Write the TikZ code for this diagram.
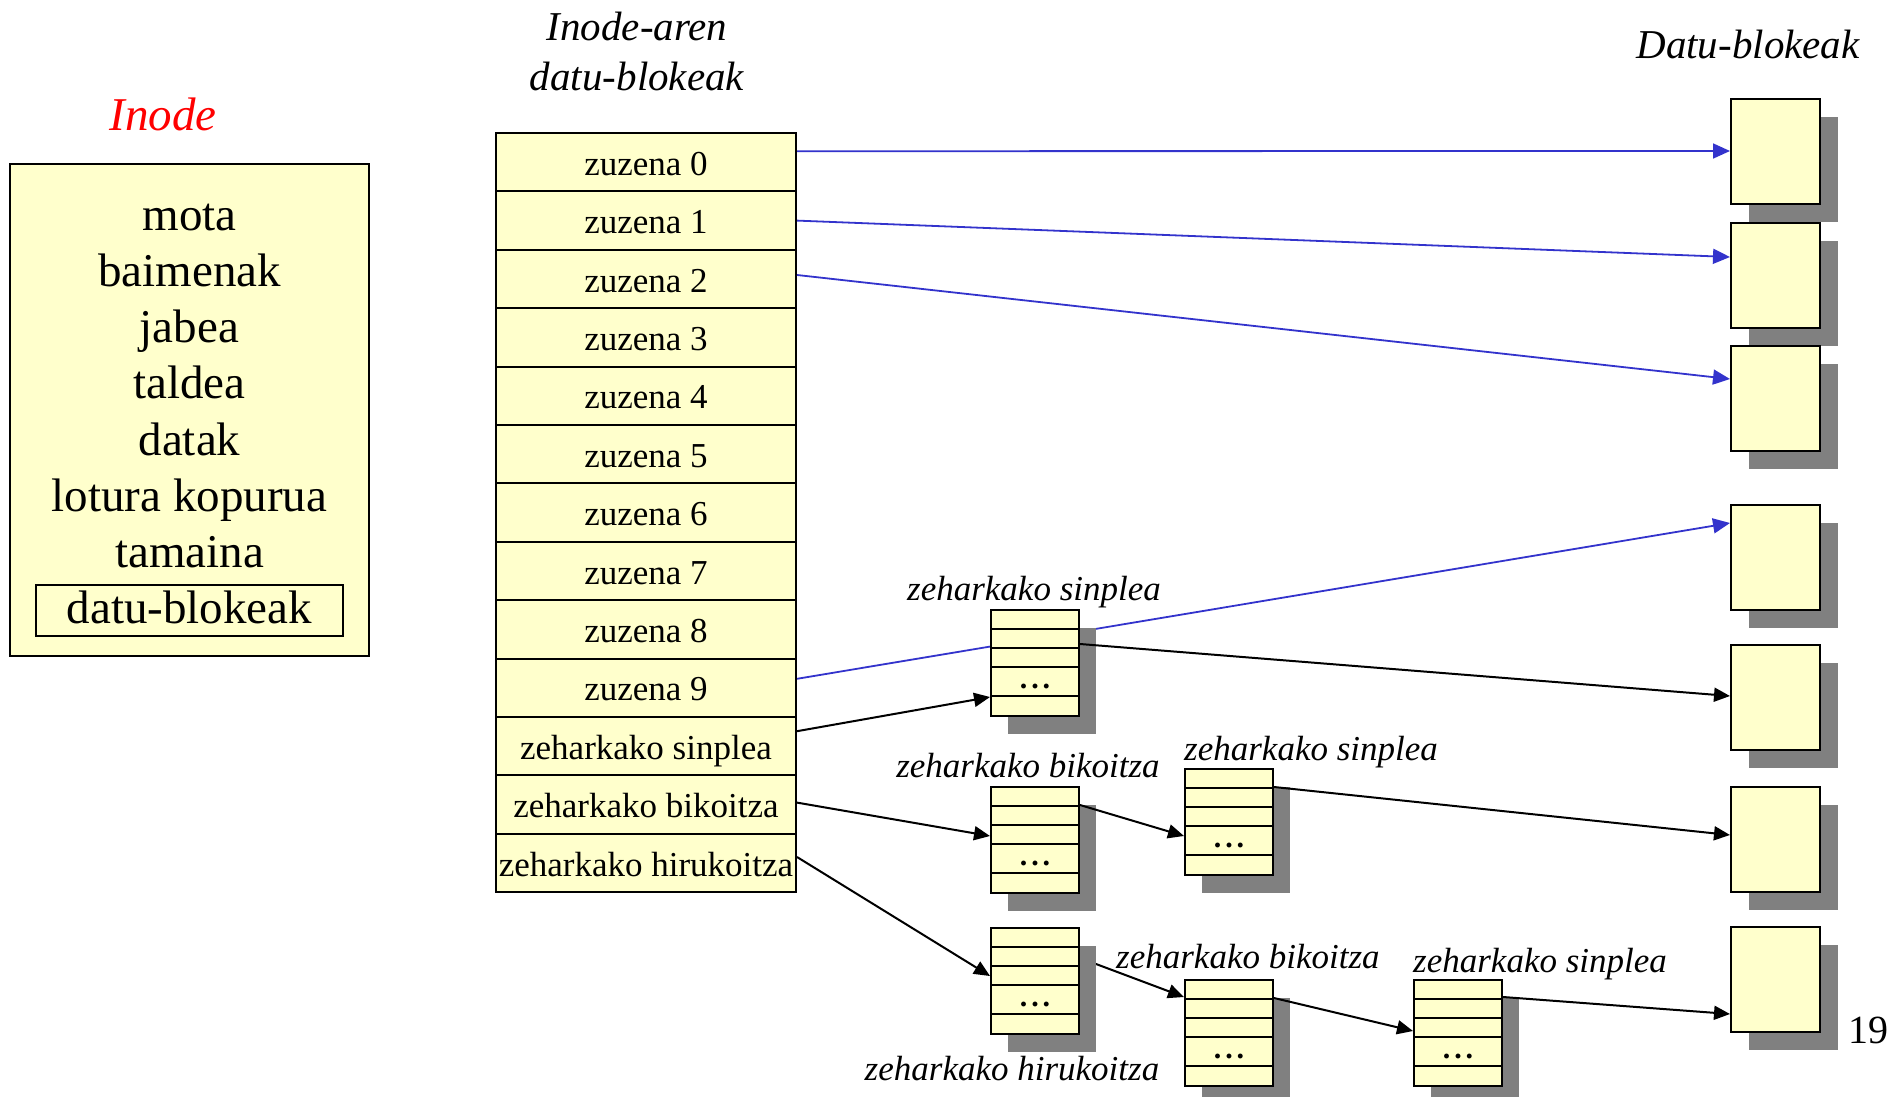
\documentclass[tikz,border=0pt]{standalone}
\usepackage{fontspec}
\setmainfont{Liberation Serif}
\usetikzlibrary{arrows.meta,calc,shadows,backgrounds}
\definecolor{cellfill}{HTML}{FFFFCC}
\definecolor{linkblue}{HTML}{3333CC}
\definecolor{shadowgray}{HTML}{808080}
\newcommand\setfs[1]{\fontsize{#1}{#1}\selectfont}
\begin{document}
\begin{tikzpicture}[x=1pt,y=-1pt,
  cell/.style={draw, line width=2pt, fill=cellfill, minimum width=300pt, minimum height=58.4pt, inner sep=0pt, text height=26pt, text depth=0pt, font=\setfs{35}},
  dblock/.style={draw, line width=2.2pt, fill=cellfill, minimum width=89pt, minimum height=105pt, inner sep=0pt, anchor=north west, drop shadow={shadow xshift=18pt, shadow yshift=-18pt, fill=shadowgray, opacity=1}},
  sblock/.style={draw, line width=2pt, fill=cellfill, minimum width=88pt, minimum height=106pt, inner sep=0pt, anchor=north west, drop shadow={shadow xshift=17pt, shadow yshift=-18pt, fill=shadowgray, opacity=1}},
  lbl/.style={font=\setfs{35}\itshape, inner sep=0pt, anchor=base},
  hdr/.style={font=\setfs{41}\itshape, inner sep=0pt, anchor=base},
  itext/.style={font=\setfs{47}, inner sep=0pt, anchor=base},
  dotsstyle/.style={font=\setfs{30}\bfseries, inner sep=0pt, anchor=base},
  barrow/.style={draw=linkblue, line width=1.8pt, -{Triangle[length=17pt,width=15pt]}},
  karrow/.style={draw=black, line width=2pt, -{Triangle[length=16pt,width=14pt]}}
]
\useasboundingbox (0,0) rectangle (1898,1097);

% Inode box
\node[draw, line width=2pt, fill=cellfill, minimum width=359pt, minimum height=492pt, inner sep=0pt] (inode) at (189.5,410) {};
\node[draw, line width=2pt, minimum width=307pt, minimum height=51pt, inner sep=0pt] (ptr) at (189.5,610.5) {};
\node[itext] (f1) at (189.5,230) {mota};
\node[itext] (f2) at (189.5,286) {baimenak};
\node[itext] (f3) at (189.5,342) {jabea};
\node[itext] (f4) at (189.5,398) {taldea};
\node[itext] (f5) at (189.5,455) {datak};
\node[itext] (f6) at (189.5,511) {lotura kopurua};
\node[itext] (f7) at (189.5,567) {tamaina};
\node[itext] (f8) at (189.5,623) {datu-blokeak};
\node[font=\setfs{47}\itshape, text=red, anchor=base, inner sep=0pt] (title) at (163,131) {Inode};

% headers
\node[hdr] (h1) at (637,41) {Inode-aren};
\node[hdr] (h2) at (637,91) {datu-blokeak};
\node[hdr] (h3) at (1748,59) {Datu-blokeak};
\node[font=\setfs{40}, anchor=base, inner sep=0pt] (pg) at (1868,1043) {19};

% table
\foreach \t [count=\i from 0] in {zuzena 0,zuzena 1,zuzena 2,zuzena 3,zuzena 4,zuzena 5,zuzena 6,zuzena 7,zuzena 8,zuzena 9,zeharkako sinplea,zeharkako bikoitza,zeharkako hirukoitza}
  \node[cell] (r\i) at (646,{133+58.4*(\i+0.5)}) {\t};

% data blocks
\foreach \yy [count=\i] in {98,222,345,504,644,786,926}
  \node[dblock] (d\i) at (1730,\yy) {};

% indirect blocks
\node[sblock] (si) at (990,609) {};
\node[sblock] (di) at (990,786) {};
\node[sblock] (dsi) at (1184,768) {};
\node[sblock] (ti) at (990,927) {};
\node[sblock] (tdi) at (1184,979) {};
\node[sblock] (tdsi) at (1413,979) {};
\foreach \n in {si,di,dsi,ti,tdi,tdsi}{
  \foreach \d in {20,39,58,87}
    \draw[line width=2pt] ($(\n.north west)+(0,\d)$) -- ($(\n.north east)+(0,\d)$);
  \node[dotsstyle] (dots-\n) at ($(\n.north)+(0,79)$) {.\hspace{4pt}.\hspace{4pt}.};
}

% labels
\node[lbl] (l1) at (1034,600) {zeharkako sinplea};
\node[lbl] (l2) at (1028,777) {zeharkako bikoitza};
\node[lbl, anchor=base west] (l3) at (1184,760) {zeharkako sinplea};
\node[lbl] (l4) at (1012,1080) {zeharkako hirukoitza};
\node[lbl, anchor=base west] (l5) at (1116,968) {zeharkako bikoitza};
\node[lbl, anchor=base west] (l6) at (1413,972) {zeharkako sinplea};

% arrows under blocks
\begin{scope}[on background layer]
\draw[barrow] ($(r9.east)+(0,-9)$) -- ($(d4.north west)+(0,19)$);
\draw[karrow] ($(ti.north east)+(0,31)$) -- ($(tdi.north west)+(0,18)$);
\end{scope}

% direct arrows
\draw[barrow] ($(r0.east)+(0,-11)$) -- ($(d1.north west)+(0,53)$);
\draw[barrow] (r1.east) -- ($(d2.north west)+(0,35)$);
\draw[barrow] ($(r2.east)+(0,-4)$) -- ($(d3.north west)+(0,34)$);

% indirect arrows
\draw[karrow] ($(r10.east)+(0,-15)$) -- ($(si.north west)+(0,88)$);
\draw[karrow] ($(si.north east)+(0,35)$) -- ($(d5.north west)+(0,52)$);
\draw[karrow] ($(r11.east)+(0,-2)$) -- ($(di.north west)+(0,50)$);
\draw[karrow] ($(di.north east)+(0,19)$) -- ($(dsi.north west)+(0,68)$);
\draw[karrow] ($(dsi.north east)+(0,19)$) -- ($(d6.north west)+(0,49)$);
\draw[karrow] ($(r12.east)+(0,-6)$) -- ($(ti.north west)+(0,49)$);
\draw[karrow] ($(tdi.north east)+(0,19)$) -- ($(tdsi.north west)+(0,52)$);
\draw[karrow] ($(tdsi.north east)+(0,18)$) -- ($(d7.north west)+(0,88)$);
\end{tikzpicture}
\end{document}
